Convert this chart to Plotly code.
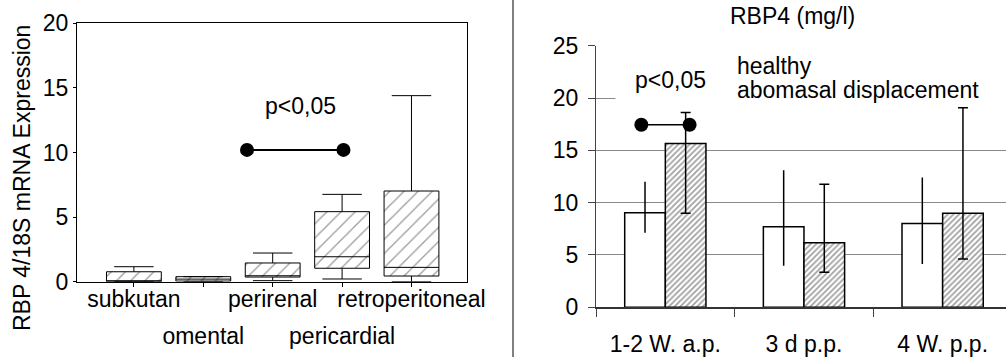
import plotly.graph_objects as go

# ---------------- Left panel: RBP4 / 18S mRNA expression (box plots) ----------------
tissues = ["subkutan", "omental", "perirenal", "pericardial", "retroperitoneal"]
q1 = [0.0, 0.05, 0.36, 1.04, 0.44]
median = [0.05, 0.2, 0.46, 1.93, 1.11]
q3 = [0.77, 0.39, 1.45, 5.42, 7.02]
lowerfence = [0.0, 0.0, 0.08, 0.21, 0.0]
upperfence = [1.16, 0.39, 2.22, 6.76, 14.4]
left_sig_x = [1.63, 3.02]
left_sig_y = [10.2, 10.2]

# ---------------- Right panel: RBP4 serum (mg/l) bars ----------------
periods = ["1-2 W. a.p.", "3 d p.p.", "4 W. p.p."]
healthy_mean = [9.03, 7.70, 8.02]
healthy_hi = [12.0, 13.1, 12.4]
healthy_lo = [7.13, 3.97, 4.14]
ad_mean = [15.66, 6.17, 8.98]
ad_hi = [18.62, 11.75, 19.06]
ad_lo = [8.98, 3.34, 4.61]
right_sig_x = [-0.173, 0.175]
right_sig_y = [17.45, 17.45]

FONT = "Liberation Sans, Arial, sans-serif"
W, H = 1006, 357

pos = list(range(len(tissues)))
ppos = list(range(len(periods)))
odd = [i for i in pos if i % 2 == 1]

fig = go.Figure()

# hatched box bodies (bars from q1 to q3)
fig.add_trace(go.Bar(
    x=pos, y=[b - a for a, b in zip(q1, q3)], base=q1, width=0.79,
    marker=dict(color="white", line=dict(width=0),
                pattern=dict(shape="/", fgcolor="#383838", bgcolor="white",
                             size=10, solidity=0.13)),
    xaxis="x", yaxis="y", showlegend=False, hoverinfo="skip"))
fig.add_trace(go.Box(
    x=pos, q1=q1, median=median, q3=q3, lowerfence=lowerfence, upperfence=upperfence,
    width=0.79, whiskerwidth=0.72, fillcolor="rgba(0,0,0,0)",
    line=dict(color="black", width=1), boxpoints=False,
    xaxis="x", yaxis="y", showlegend=False))
fig.add_trace(go.Scatter(
    x=left_sig_x, y=left_sig_y, mode="lines+markers",
    line=dict(color="black", width=2), marker=dict(color="black", size=14),
    xaxis="x", yaxis="y", showlegend=False))
# invisible carrier so the second label row axis is drawn
fig.add_trace(go.Scatter(
    x=odd, y=[median[i] for i in odd], mode="markers", marker=dict(opacity=0),
    xaxis="x3", yaxis="y", showlegend=False, hoverinfo="skip"))

# right bars
bw = 0.293
fig.add_trace(go.Bar(
    x=ppos, y=healthy_mean, width=bw, offset=-bw, name="healthy",
    marker=dict(color="white", line=dict(color="black", width=1.5)),
    error_y=dict(type="data", symmetric=False,
                 array=[h - m for h, m in zip(healthy_hi, healthy_mean)],
                 arrayminus=[m - l for l, m in zip(healthy_lo, healthy_mean)],
                 color="black", thickness=1.5, width=0),
    xaxis="x2", yaxis="y2", showlegend=False))
fig.add_trace(go.Bar(
    x=ppos, y=ad_mean, width=bw, offset=0, name="abomasal displacement",
    marker=dict(color="white", line=dict(color="black", width=1.5),
                pattern=dict(shape="/", fgcolor="#444444", bgcolor="white",
                             size=4, solidity=0.45)),
    error_y=dict(type="data", symmetric=False,
                 array=[h - m for h, m in zip(ad_hi, ad_mean)],
                 arrayminus=[m - l for l, m in zip(ad_lo, ad_mean)],
                 color="black", thickness=1.5, width=5),
    xaxis="x2", yaxis="y2", showlegend=False))
fig.add_trace(go.Scatter(
    x=right_sig_x, y=right_sig_y, mode="lines+markers",
    line=dict(color="black", width=1.5), marker=dict(color="black", size=14),
    xaxis="x2", yaxis="y2", showlegend=False))
fig.add_trace(go.Scatter(
    x=ppos, y=healthy_mean, mode="markers", marker=dict(opacity=0),
    xaxis="x4", yaxis="y2", showlegend=False, hoverinfo="skip"))

xr_left = [-0.82, 4.8]
xr_right = [-0.5, 2.457]
tf = dict(family=FONT, size=23, color="black")
tfr = dict(family=FONT, size=23, color="black")

fig.update_layout(
    width=W, height=H, margin=dict(l=0, r=0, t=0, b=0, autoexpand=False),
    paper_bgcolor="white", plot_bgcolor="white",
    font=dict(family=FONT, color="black"),
    xaxis=dict(domain=[77 / W, 467 / W], range=xr_left, tickvals=pos,
               ticktext=[t if i % 2 == 0 else "" for i, t in enumerate(tissues)],
               ticks="outside", ticklen=4, tickcolor="black",
               showline=True, linecolor="black", linewidth=1, mirror=True,
               showgrid=False, zeroline=False, tickfont=tf, anchor="y",
               ticklabelstandoff=-7, automargin=False),
    xaxis3=dict(domain=[77 / W, 467 / W], range=xr_left, overlaying="x", anchor="y",
                tickvals=odd, ticktext=[tissues[i] for i in odd],
                ticks="", showline=False, showgrid=False, zeroline=False,
                tickfont=tf, side="bottom", ticklabelstandoff=38, automargin=False),
    yaxis=dict(domain=[1 - 281.7 / H, 1 - 23.3 / H], range=[0, 20],
               tickvals=[0, 5, 10, 15, 20], ticks="outside", ticklen=3,
               tickcolor="black", showline=True, linecolor="black", linewidth=1,
               mirror=True, showgrid=False, zeroline=False, tickfont=tf,
               anchor="x", automargin=False),
    xaxis2=dict(domain=[596 / W, 1.0], range=xr_right, tickvals=[-0.5, 0.5, 1.5],
                ticktext=["", "", ""], ticks="outside", ticklen=8,
                tickcolor="#444444", showline=True, linecolor="#333333",
                linewidth=1.5, showgrid=False, zeroline=False, anchor="y2",
                automargin=False),
    xaxis4=dict(domain=[596 / W, 1.0], range=xr_right, overlaying="x2", anchor="y2",
                tickvals=ppos, ticktext=periods, ticks="", showline=False,
                showgrid=False, zeroline=False, tickfont=tfr, side="bottom",
                ticklabelstandoff=21, automargin=False),
    yaxis2=dict(domain=[1 - 307.3 / H, 1 - 45.7 / H], range=[0, 25],
                tickvals=[0, 5, 10, 15, 20, 25], ticks="outside", ticklen=7,
                tickcolor="#444444", showline=True, linecolor="#444444",
                linewidth=1, showgrid=True, gridcolor="#8a8a8a", gridwidth=1,
                zeroline=False, tickfont=tfr, anchor="x2", ticklabelstandoff=5,
                automargin=False),
    shapes=[
        dict(type="line", xref="paper", yref="paper", x0=513 / W, x1=513 / W,
             y0=0, y1=1, line=dict(color="black", width=1)),
        dict(type="rect", xref="x2", yref="y2", x0=-0.36, x1=2.6, y0=19.3, y1=24.3,
             fillcolor="white", line=dict(width=0), layer="above"),
    ],
    annotations=[
        dict(text="RBP 4/18S mRNA Expression", x=22 / W, y=1 - 178 / H,
             xref="paper", yref="paper", textangle=-90, showarrow=False,
             xanchor="center", yanchor="middle", font=tf),
        dict(text="RBP4 (mg/l)", x=792 / W, y=1 - 16 / H, xref="paper", yref="paper",
             showarrow=False, xanchor="center", yanchor="middle",
             font=dict(family=FONT, size=23, color="black")),
        dict(text="p<0,05", x=2.4, y=13.6, xref="x", yref="y", showarrow=False,
             font=tf),
        dict(text="p<0,05", x=0.036, y=21.7, xref="x2", yref="y2", showarrow=False,
             font=tfr),
        dict(text="healthy", x=0.505, y=23.1, xref="x2", yref="y2", xanchor="left",
             showarrow=False, font=tfr),
        dict(text="abomasal displacement", x=0.505, y=20.8, xref="x2", yref="y2",
             xanchor="left", showarrow=False, font=tfr),
    ],
)

fig.write_html("out.html", config={"displayModeBar": False},
               post_script="document.body.style.margin='0px';"
                           "document.body.style.padding='0px';")
